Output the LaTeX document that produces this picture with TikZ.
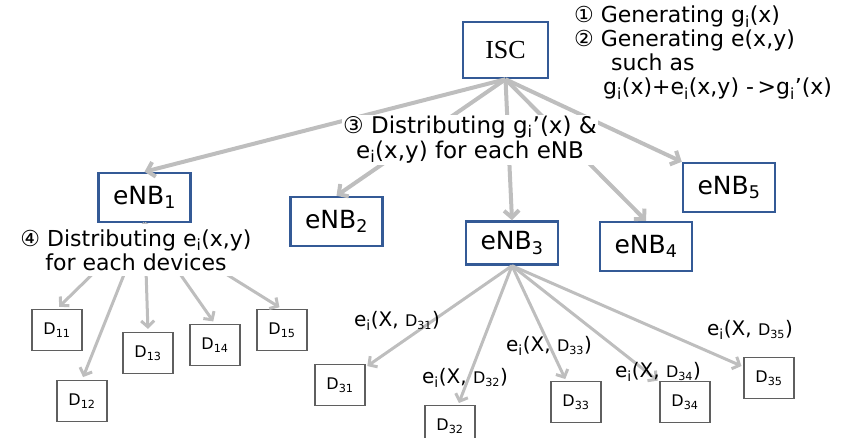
\documentclass[tikz,border=0pt]{standalone}
\usepackage{fontspec}
\setmainfont{DejaVu Sans}
\newfontfamily\iscfont{Liberation Serif}
\definecolor{enbblue}{RGB}{52,90,150}
\definecolor{devgray}{RGB}{95,95,95}
\definecolor{arrowgray}{RGB}{190,190,190}
\usetikzlibrary{arrows.meta}
\newcommand{\sub}[1]{\textsubscript{#1}}
\newcommand{\dev}[1]{{\fontsize{16}{18}\selectfont D\sub{#1}}}

\begin{document}
\begin{tikzpicture}[x=1pt, y=-1pt,
    enbbox/.style={draw=enbblue, line width=2.5pt, minimum width=92pt, minimum height=49pt, font=\fontsize{25}{27}\selectfont},
    devbox/.style={draw=devgray, line width=1.3pt, minimum width=50pt, minimum height=41pt, font=\fontsize{16}{18}\selectfont},
    feed/.style={draw=arrowgray, line width=4pt, -{Straight Barb[length=7pt,width=15pt]}},
    share/.style={draw=arrowgray, line width=3pt, -{Straight Barb[length=6pt,width=13pt]}},
    note/.style={font=\fontsize{22}{24}\selectfont, inner sep=1pt},
    keylabel/.style={font=\fontsize{20}{22}\selectfont, inner sep=0pt}]
    \useasboundingbox (0,0) rectangle (843,437);

    % Server and base stations
    \node[enbbox, minimum width=85pt, minimum height=56pt, font=\iscfont\fontsize{26}{28}\selectfont] (isc) at (505.5,50) {ISC};
    \node[enbbox] (enb1) at (144.5,197.5) {eNB\sub{1}};
    \node[enbbox] (enb2) at (336.5,221.5) {eNB\sub{2}};
    \node[enbbox, minimum height=43pt] (enb3) at (512,243) {eNB\sub{3}};
    \node[enbbox] (enb4) at (646,246.5) {eNB\sub{4}};
    \node[enbbox] (enb5) at (729,187.5) {eNB\sub{5}};

    % Devices
    \node[devbox] (d11) at (57,330) {D\sub{11}};
    \node[devbox] (d12) at (82,401) {D\sub{12}};
    \node[devbox] (d13) at (148,353) {D\sub{13}};
    \node[devbox] (d14) at (215,345) {D\sub{14}};
    \node[devbox] (d15) at (282,330) {D\sub{15}};
    \node[devbox] (d31) at (340,385) {D\sub{31}};
    \node[devbox] (d32) at (450,426) {D\sub{32}};
    \node[devbox] (d33) at (576,402) {D\sub{33}};
    \node[devbox] (d34) at (685,402) {D\sub{34}};
    \node[devbox] (d35) at (769,378) {D\sub{35}};

    % ISC to eNBs
    \foreach \t in {enb1,enb2,enb3,enb4}
        \draw[feed] (isc.south) -- (\t.north);
    \draw[feed] (isc.south) -- (enb5.north west);

    % eNB1 to its devices
    \foreach \t in {d11,d12,d13,d14,d15}
        \draw[share, shorten >=3pt] (enb1.south) -- (\t.north);

    % eNB3 to its devices
    \foreach \t in {d31,d32,d33,d34,d35}
        \draw[share, shorten >=2pt] (enb3.south) -- (\t);

    % Steps
    \node[note, anchor=north west, align=left] (steps) at (573,5)
        {① Generating g\sub{i}(x)\\
         ② Generating e(x,y)\\
         \hspace*{37pt}such as\\
         \hspace*{29pt}g\sub{i}(x)+e\sub{i}(x,y) -\,>g\sub{i}'(x)};
    \node[note, fill=white, align=center, font=\fontsize{23}{25}\selectfont] (step3) at (470,140)
        {③ Distributing g\sub{i}'(x) \&\\ e\sub{i}(x,y) for each eNB};
    \node[note, fill=white, align=center, inner ysep=5pt] (step4) at (136,250)
        {④ Distributing e\sub{i}(x,y)\\ for each devices};

    % Keys on the eNB3 links
    \node[keylabel] (k31) at (397,321) {e\sub{i}(X, \dev{31})};
    \node[keylabel] (k32) at (465,378) {e\sub{i}(X, \dev{32})};
    \node[keylabel] (k33) at (549,346) {e\sub{i}(X, \dev{33})};
    \node[keylabel] (k34) at (658,372) {e\sub{i}(X, \dev{34})};
    \node[keylabel] (k35) at (750,330) {e\sub{i}(X, \dev{35})};
\end{tikzpicture}
\end{document}
